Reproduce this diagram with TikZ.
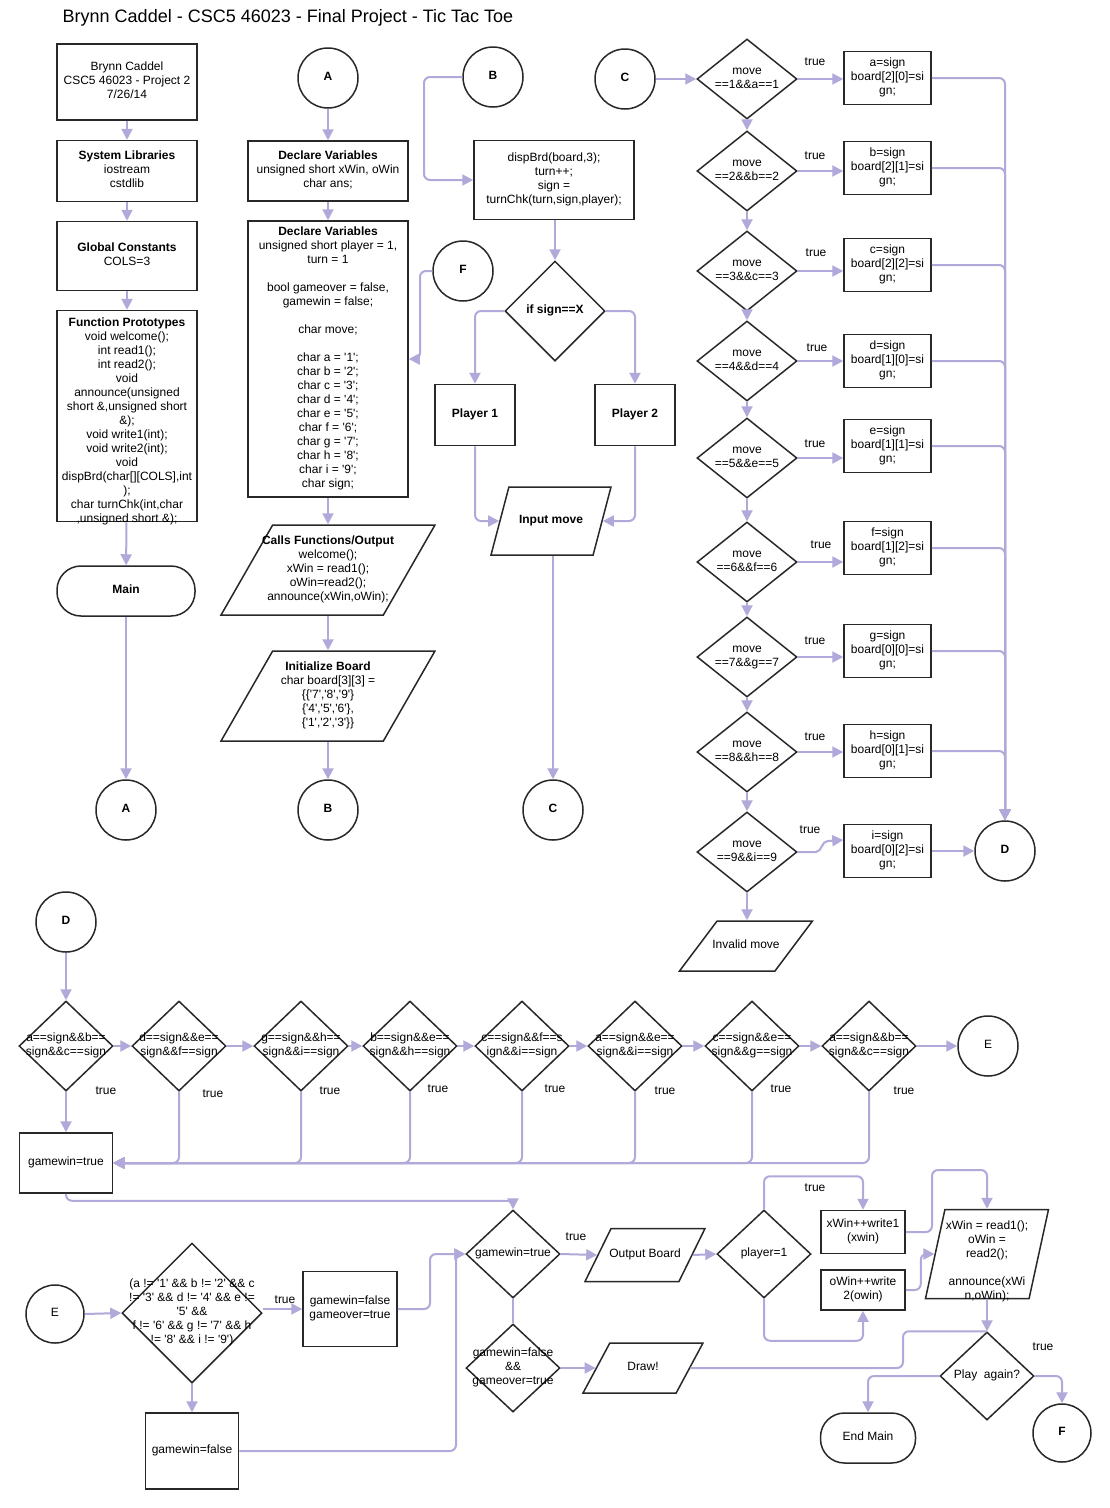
\documentclass[tikz,border=0pt]{standalone}
\usepackage{fontspec}
\setmainfont{Liberation Sans}
\usetikzlibrary{shapes.geometric,arrows.meta,calc}
\definecolor{connc}{RGB}{178,168,218}
\definecolor{bord}{RGB}{40,40,40}
\newcommand\zt[2][-3pt]{\smash{\makebox[0pt]{\raisebox{#1}{\begin{tabular}{@{}c@{}}#2\end{tabular}}}}}
\newcommand\sq{\textquotesingle}
\begin{document}
\begin{tikzpicture}[x=1pt,y=-1pt,font=\fontsize{12}{14}\selectfont,
  box/.style 2 args={rectangle,draw=bord,line width=1.5pt,fill=white,inner sep=0pt,minimum width=#1,minimum height=#2},
  dia/.style 2 args={diamond,draw=bord,line width=1.5pt,fill=white,inner sep=0pt,minimum width=#1,minimum height=#2},
  para/.style n args={4}{trapezium,trapezium left angle=#1,trapezium right angle=#2,trapezium stretches=true,draw=bord,line width=1.5pt,fill=white,inner sep=2pt,minimum width=#3,minimum height=#4},
  circ/.style={circle,draw=bord,line width=1.5pt,fill=white,inner sep=0pt,minimum size=#1},
  circ/.default=60pt,
  stad/.style 2 args={rectangle,rounded corners=24pt,draw=bord,line width=1.5pt,fill=white,inner sep=0pt,minimum width=#1,minimum height=#2},
  conn/.style={draw=connc,line width=2pt,rounded corners=6pt,-{Triangle[length=11pt,width=11pt]}},
  cline/.style={draw=connc,line width=2pt,rounded corners=6pt},
  lbl/.style={inner sep=0pt}]
\fill[white] (0,0) rectangle (1110,1508);
\useasboundingbox (0,0) rectangle (1110,1508);
\node[lbl] (title) at (288,18) {\fontsize{18}{20}\selectfont Brynn Caddel - CSC5 46023 - Final Project - Tic Tac Toe};

% ---------- left column
\node[box={140pt}{76pt}] (n1) at (127,82) {\zt{Brynn Caddel\\CSC5 46023 - Project 2\\7/26/14}};
\node[box={140pt}{61pt}] (sys) at (127,171) {\zt{\textbf{System Libraries}\\iostream\\cstdlib}};
\node[box={140pt}{69pt}] (glob) at (127,256) {\zt{\textbf{Global Constants}\\COLS=3}};
\node[box={140pt}{211pt}] (proto) at (127,416) {\zt[-9pt]{\textbf{Function Prototypes}\\void welcome();\\int read1();\\int read2();\\void\\announce(unsigned\\short \&,unsigned short\\\&);\\void write1(int);\\void write2(int);\\void\\dispBrd(char[][COLS],int\\);\\char turnChk(int,char\\,unsigned short \&);}};
\node[stad={138pt}{50pt}] (main) at (126,591) {\zt{\textbf{Main}}};
\node[circ] (A1) at (126,810) {\zt{\textbf{A}}};
\draw[conn] (n1) -- (sys);
\draw[conn] (sys) -- (glob);
\draw[conn] (glob) -- (proto);
\draw[conn] (proto) -- (main);
\draw[conn] (main) -- (A1);

% ---------- column 2
\node[circ] (A2) at (328,78) {\zt{\textbf{A}}};
\node[box={160pt}{60pt}] (dv1) at (328,171) {\zt{\textbf{Declare Variables}\\unsigned short xWin, oWin\\char ans;}};
\node[box={160pt}{276pt}] (dv2) at (328,359) {\zt{\textbf{Declare Variables}\\unsigned short player = 1,\\turn = 1\\ \\bool gameover = false,\\gamewin = false;\\ \\char move;\\ \\char a = \sq1\sq;\\char b = \sq2\sq;\\char c = \sq3\sq;\\char d = \sq4\sq;\\char e = \sq5\sq;\\char f = \sq6\sq;\\char g = \sq7\sq;\\char h = \sq8\sq;\\char i = \sq9\sq;\\char sign;}};
\node[para={65}{115}{214pt}{90pt}] (calls) at (328,570) {\zt{\textbf{Calls Functions/Output}\\welcome();\\xWin = read1();\\oWin=read2();\\announce(xWin,oWin);}};
\node[para={65}{115}{214pt}{90pt}] (init) at (328,696) {\zt{\textbf{Initialize Board}\\char board[3][3] =\\\{\{\sq7\sq,\sq8\sq,\sq9\sq\}\\\{\sq4\sq,\sq5\sq,\sq6\sq\},\\\{\sq1\sq,\sq2\sq,\sq3\sq\}\}}};
\node[circ] (B1) at (328,810) {\zt{\textbf{B}}};
\node[circ] (F1) at (463,271) {\zt{\textbf{F}}};
\draw[conn] (A2) -- (dv1);
\draw[conn] (dv1) -- (dv2);
\draw[conn] (dv2.south) -- (calls.center |- calls.north);
\draw[conn] (calls.center |- calls.south) -- (init.center |- init.north);
\draw[conn] (init.center |- init.south) -- (B1.north);
\coordinate (fk) at (420,271);
\draw[conn] (F1.west) -- (fk) |- (dv2.east);

% ---------- column 3
\node[circ] (B2) at (493,77) {\zt{\textbf{B}}};
\node[box={160pt}{79pt}] (disp) at (554,180) {\zt{dispBrd(board,3);\\turn++;\\sign =\\turnChk(turn,sign,player);}};
\node[dia={100pt}{100pt}] (ifx) at (555,311) {\zt{\textbf{if sign==X}}};
\node[box={80pt}{61pt}] (p1) at (475,415) {\zt{\textbf{Player 1}}};
\node[box={80pt}{61pt}] (p2) at (635,415) {\zt{\textbf{Player 2}}};
\node[para={78}{102}{120pt}{68pt}] (inp) at (551,521) {\zt{\textbf{Input move}}};
\node[circ] (C1) at (553,810) {\zt{\textbf{C}}};
\coordinate (bk) at (424,77);
\draw[conn] (B2.west) -- (bk) |- (disp.west);
\draw[conn] (disp.south -| ifx.north) -- (ifx.north);
\draw[conn] (ifx.west) -| (p1.north);
\draw[conn] (ifx.east) -| (p2.north);
\draw[conn] (p1.south) |- (inp.west);
\draw[conn] (p2.south) |- (inp.east);
\draw[conn] (inp.south -| C1.north) -- (C1.north);

% ---------- column 4
\node[circ] (C2) at (625,79) {\zt{\textbf{C}}};
\foreach \i/\y/\v in {1/79/a,2/171/b,3/271/c,4/361/d,5/458/e,6/562/f,7/657/g,8/752/h,9/852/i}{
  \node[dia={100pt}{80pt}] (m\i) at (747,\y) {\zt{move\\==\i\&\&\v==\i}};
}
\foreach \i/\y/\v/\r/\c in {1/78/a/2/0,2/168/b/2/1,3/265/c/2/2,4/361/d/1/0,5/446/e/1/1,6/548/f/1/2,7/651/g/0/0,8/751/h/0/1,9/851/i/0/2}{
  \node[box={87pt}{53pt}] (s\i) at (887.5,\y) {\zt{\v=sign\\board[\r][\c]=si\\gn;}};
}
\node[para={57}{123}{133pt}{50pt}] (inv) at (746,946) {\zt{Invalid move}};
\node[circ] (Dc) at (1005,851) {\zt{\textbf{D}}};
\draw[conn] (C2.east) -- (m1.west);
\foreach \i/\j in {1/2,2/3,3/4,4/5,5/6,6/7,7/8,8/9}{
  \draw[conn] (m\i.south) -- (m\j.north);
  \draw[conn] (m\i.east) -- (m\i.east -| s\i.west);
  \draw[conn] (s\i.east) -| (Dc.north);
}
\draw[conn] (m9.south) -- (inv.north -| m9.south);
\coordinate (s9in) at ($(s9.west)+(0,-11)$);
\draw[conn,rounded corners=0pt] (m9.east) -- ++(18,0) to[out=0,in=180] ++(12,-11) -- (s9in);
\draw[conn] (s9.east) -- (Dc.west);
\foreach \i/\x/\y in {1/815/62,2/815/156,3/816/253,4/817/348,5/815/444,6/821/545,7/815/641,8/815/737,9/810/830}{
  \node[lbl] (tm\i) at (\x,\y) {true};
}

% ---------- row of win checks
\node[circ] (D2) at (66,922) {\zt{\textbf{D}}};
\foreach \i/\x/\ta/\tb in {1/66/a==sign\&\&b==/sign\&\&c==sign,2/179/d==sign\&\&e==/sign\&\&f==sign,3/301/g==sign\&\&h==/sign\&\&i==sign,4/410/b==sign\&\&e==/sign\&\&h==sign,5/522/c==sign\&\&f==s/ign\&\&i==sign,6/635/a==sign\&\&e==/sign\&\&i==sign,7/752/c==sign\&\&e==/sign\&\&g==sign,8/869/a==sign\&\&b==/sign\&\&c==sign}{
  \node[dia={94pt}{90pt}] (r\i) at (\x,1046) {\zt{\ta\\\tb}};
}
\node[circ] (E1) at (988,1046) {\zt{E}};
\node[box={93pt}{60pt}] (gwt) at (66,1163) {\zt{gamewin=true}};
\draw[conn] (D2) -- (r1.north);
\foreach \i/\j in {1/2,2/3,3/4,4/5,5/6,6/7,7/8}{
  \draw[conn] (r\i.east) -- (r\j.west);
}
\draw[conn] (r8.east) -- (E1.west);
\draw[conn] (r1.south) -- (gwt.north);
\foreach \i in {8,7,6,5,4,3,2}{
  \draw[conn] (r\i.south) |- (gwt.east);
}
\foreach \i/\x/\y in {1/106/1091,2/213/1094,3/330/1091,4/438/1089,5/555/1089,6/665/1091,7/781/1089,8/904/1091}{
  \node[lbl] (tr\i) at (\x,\y) {true};
}

% ---------- bottom section
\node[circ=58pt] (E2) at (55,1314) {\zt{E}};
\node[dia={140pt}{140pt}] (big) at (192,1313) {\zt{(a != \sq1\sq{} \&\& b != \sq2\sq{} \&\& c\\!= \sq3\sq{} \&\& d != \sq4\sq{} \&\& e !=\\\sq5\sq{} \&\&\\f != \sq6\sq{} \&\& g != \sq7\sq{} \&\& h\\!= \sq8\sq{} \&\& i != \sq9\sq)}};
\node[box={94pt}{75pt}] (gf) at (350,1309) {\zt{gamewin=false\\gameover=true}};
\node[box={93pt}{76pt}] (gfl) at (192,1451) {\zt{gamewin=false}};
\node[dia={94pt}{88pt}] (gwd) at (513,1254) {\zt{gamewin=true}};
\node[dia={94pt}{88pt}] (gwf) at (513,1368) {\zt{gamewin=false\\\&\&\\gameover=true}};
\node[para={69}{111}{120pt}{53pt}] (out) at (645,1255) {\zt{Output Board}};
\node[dia={94pt}{88pt}] (pl) at (764,1254) {\zt{player=1}};
\node[box={84pt}{43pt}] (xw) at (863,1232) {\zt{xWin++write1\\(xwin)}};
\node[box={84pt}{40pt}] (ow) at (863,1290) {\zt{oWin++write\\2(owin)}};
\node[para={77}{103}{123pt}{89pt}] (rd) at (987,1254) {\zt[-11pt]{xWin = read1();\\oWin =\\read2();\\ \\announce(xWi\\n,oWin);}};
\node[para={68}{112}{120pt}{50pt}] (drw) at (643,1368) {\zt{Draw!}};
\node[dia={94pt}{88pt}] (pa) at (987,1376) {\zt{Play\ \ again?}};
\node[stad={95pt}{50pt}] (endm) at (868,1438) {\zt{End Main}};
\node[circ=58pt] (F2) at (1062,1433) {\zt{\textbf{F}}};

\draw[cline] (gwt.south) -- ++(0,7) -| ($(gwd.north)+(0,-3)$);
\draw[conn] ($(gwd.north)+(0,-5)$) -- (gwd.north);
\draw[conn] (E2.east) -- (big.west);
\draw[conn] (gf.west -| big.east) -- (gf.west);
\draw[conn] (big.south) -- (gfl.north);
\coordinate (gk) at (430,1309);
\draw[conn] (gf.east) -- (gk) |- (gwd.west);
\coordinate (gk2) at (456,1451);
\draw[conn] (gfl.east) -- (gk2) |- (gwd.west);
\draw[conn] (gwd.east) -- (out.west);
\draw[conn] (out.east) -- (pl.west);
\draw[conn] (pl.north) -- ++(0,-33) -| (xw.north);
\draw[conn] (pl.south) -- ++(0,42) -| (ow.south);
\coordinate (xk) at (932,1170);
\draw[conn] (xw.east) -| (xk) -| (rd.north -| pa.north);
\draw[conn] (ow.east) -- ++(15,0) |- (rd.west);
\draw[conn] (rd.south -| pa.north) -- (pa.north);
\draw[cline] (gwd.south) -- (gwf.north);
\draw[conn] (gwf.east) -- (drw.west);
\path (pa.north) ++(-84,0) coordinate (dk);
\draw[cline] (drw.east) -| (dk) -- (pa.north);
\draw[conn] (pa.west) -| (endm.north);
\draw[conn] (pa.east) -| (F2.north);
\node[lbl] (tb1) at (285,1300) {true};
\node[lbl] (tb2) at (576,1237) {true};
\node[lbl] (tb3) at (815,1188) {true};
\node[lbl] (tb4) at (1043,1347) {true};
\end{tikzpicture}
\end{document}
